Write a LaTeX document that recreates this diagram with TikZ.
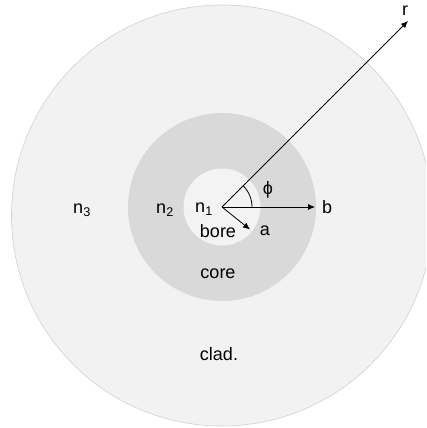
\documentclass[tikz,border=0pt]{standalone}
\usepackage{fontspec}
\setmainfont{Liberation Sans}
\usetikzlibrary{arrows.meta,positioning}
\usepackage{xcolor}
\definecolor{cladColor}{RGB}{242,242,242}
\definecolor{coreColor}{RGB}{217,217,217}
\definecolor{boreColor}{RGB}{243,243,243}
\newcommand{\diagfont}{\fontsize{18}{20}\selectfont}

\begin{document}
\begin{tikzpicture}[x=1pt, y=-1pt,
        layer/.style={circle, inner sep=0pt},
        lbl/.style={font=\diagfont, inner sep=0pt},
        arr/.style={-{Latex[length=7pt, width=6pt]}, line width=0.8pt, black},
      ]
      \useasboundingbox (0,0) rectangle (426,428);
      \begin{scope}
        \clip (0,0) rectangle (426,428);
        \node[layer, fill=cladColor, draw=black!18, line width=0.6pt, minimum size=421pt] (clad) at (222,215.5) {};
      \end{scope}
      \node[layer, fill=coreColor, minimum size=188pt] (core) at (222,207) {};
      \node[layer, fill=boreColor, minimum size=77pt] (bore) at (222,207) {};

      \coordinate (o) at (222,207);
      \coordinate (rtip) at (408,21);
      \coordinate (btip) at (315,207);
      \coordinate (atip) at (250,229.5);

      \draw[arr] (o) -- (rtip);
      \draw[arr] (o) -- (btip);
      \draw[arr] (o) -- (atip);
      \draw[line width=0.8pt] (o) ++(30,0) arc[start angle=0, end angle=-45, radius=30];

      \node[lbl] (rlbl) at (405,11) {r};
      \node[lbl, right=7pt of btip] (blbl) {b};
      \node[lbl] (albl) at (265,231) {a};
      \node[lbl] (philbl) at (268,190) {ϕ};
      \node[lbl] (n1) at (204,209) {n\textsubscript{1}};
      \node[lbl] (n2) at (165,210) {n\textsubscript{2}};
      \node[lbl] (n3) at (82,210) {n\textsubscript{3}};
      \node[lbl] (borelbl) at (218,231) {bore};
      \node[lbl] (corelbl) at (218,274) {core};
      \node[lbl] (cladlbl) at (219,354) {clad.};
    \end{tikzpicture}
\end{document}
